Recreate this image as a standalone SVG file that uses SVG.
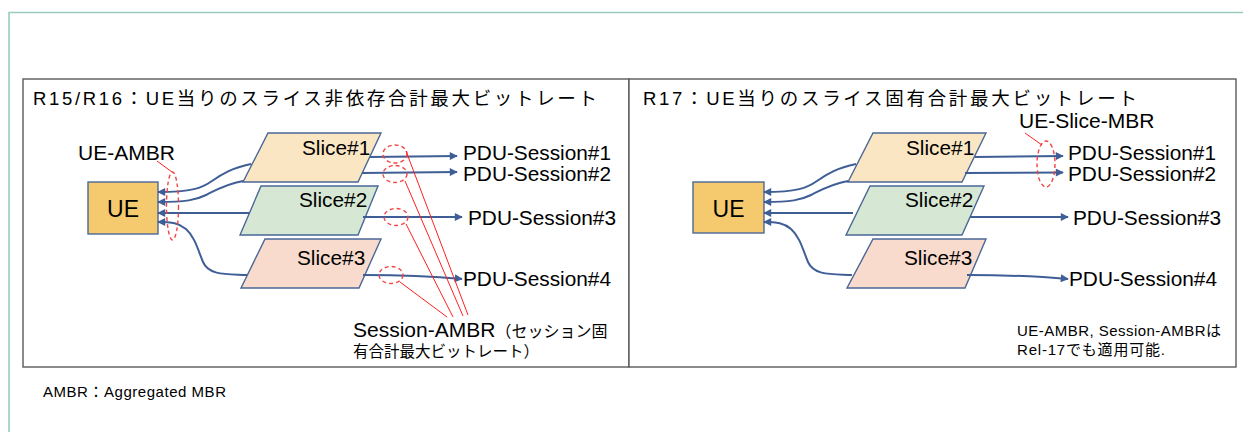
<svg xmlns="http://www.w3.org/2000/svg" width="1243" height="432" viewBox="0 0 1243 432">
<style>
text{font-family:"Liberation Sans","Noto Sans CJK JP",Arial,sans-serif;fill:#000}
.frame{fill:none;stroke:#9ACBBE;stroke-width:1.6}
.panel{fill:#fff;stroke:#5a5a5a;stroke-width:1.4}
.ue{fill:#F5CA6E;stroke:#4A6797;stroke-width:1.4}
.s1{fill:#FAE6C3;stroke:#4A6797;stroke-width:1.4}
.s2{fill:#D6E8D4;stroke:#4A6797;stroke-width:1.4}
.s3{fill:#F8DBCD;stroke:#4A6797;stroke-width:1.4}
.conn{fill:none;stroke:#3F5E96;stroke-width:2}
.arr{marker-end:url(#ah)}
.red{fill:none;stroke:#FF2020;stroke-width:1}
.dash{fill:none;stroke:#F04545;stroke-width:1.4;stroke-dasharray:4 3}
.t20{font-size:20.8px}
.t21{font-size:21px}
</style>
<defs>
<marker id="ah" viewBox="0 0 10 10" refX="9" refY="5" markerUnits="userSpaceOnUse" markerWidth="9" markerHeight="8" orient="auto">
<path d="M0,0 L10,5 L0,10 z" fill="#3F5E96"/>
</marker>
</defs>
<rect width="1243" height="432" fill="#fff"/>
<path class="frame" d="M9,432 L9,12.5 L1243,12.5"/>

<g id="panel-left">
<rect class="panel" x="23" y="79" width="606" height="288"/>
<text x="33" y="105" font-size="18.5" textLength="564" lengthAdjust="spacing">R15/R16：UE当りのスライス非依存合計最大ビットレート</text>
</g>
<g id="panel-right">
<rect class="panel" x="629" y="79" width="607" height="288"/>
<text x="643" y="105" font-size="18.5" textLength="494" lengthAdjust="spacing">R17：UE当りのスライス固有合計最大ビットレート</text>
</g>

<!-- Left panel nodes -->
<g id="l-ue">
<rect class="ue" x="88" y="182" width="70" height="52"/>
<text x="123" y="217" font-size="23" text-anchor="middle">UE</text>
</g>
<g id="l-slice1">
<polygon class="s1" points="268,133 381,133 358,182 243,182"/>
<text class="t20" x="302" y="155">Slice#1</text>
</g>
<g id="l-slice2">
<polygon class="s2" points="261,186 378,186 358,235 240,235"/>
<text class="t20" x="299" y="207">Slice#2</text>
</g>
<g id="l-slice3">
<polygon class="s3" points="265,239 381,239 359,288 241,288"/>
<text class="t20" x="297" y="265">Slice#3</text>
</g>
<g id="l-pdu1"><text class="t20" x="463" y="160">PDU-Session#1</text></g>
<g id="l-pdu2"><text class="t20" x="463" y="181">PDU-Session#2</text></g>
<g id="l-pdu3"><text class="t20" x="468" y="225">PDU-Session#3</text></g>
<g id="l-pdu4"><text class="t20" x="463" y="286">PDU-Session#4</text></g>
<g id="l-ueambr"><text class="t21" x="78" y="160">UE-AMBR</text></g>
<g id="l-sessambr">
<text x="353" y="337"><tspan font-size="21">Session-AMBR</tspan><tspan font-size="16">（セッション固</tspan></text>
<text x="353" y="357" font-size="15.5">有合計最大ビットレート）</text>
</g>

<!-- Right panel nodes -->
<g id="r-ue">
<rect class="ue" x="693" y="182" width="71" height="51"/>
<text x="728.5" y="217" font-size="23" text-anchor="middle">UE</text>
</g>
<g id="r-slice1">
<polygon class="s1" points="873,133 986,133 962,182 848,182"/>
<text class="t20" x="906" y="155">Slice#1</text>
</g>
<g id="r-slice2">
<polygon class="s2" points="870,186 984,186 962,235 846,235"/>
<text class="t20" x="905" y="207">Slice#2</text>
</g>
<g id="r-slice3">
<polygon class="s3" points="873,239 986,239 965,288 847,288"/>
<text class="t20" x="904" y="265">Slice#3</text>
</g>
<g id="r-pdu1"><text class="t20" x="1068" y="160">PDU-Session#1</text></g>
<g id="r-pdu2"><text class="t20" x="1068" y="181">PDU-Session#2</text></g>
<g id="r-pdu3"><text class="t20" x="1073" y="225">PDU-Session#3</text></g>
<g id="r-pdu4"><text class="t20" x="1069" y="286">PDU-Session#4</text></g>
<g id="r-ueslicembr"><text class="t21" x="1019" y="128">UE-Slice-MBR</text></g>
<g id="r-note">
<text x="1017" y="336" font-size="15" textLength="204" lengthAdjust="spacing">UE-AMBR, Session-AMBRは</text>
<text x="1017" y="355" font-size="15" textLength="148" lengthAdjust="spacing">Rel-17でも適用可能.</text>
</g>
<g id="footer"><text x="43" y="397" font-size="15" textLength="183" lengthAdjust="spacing">AMBR：Aggregated MBR</text></g>

<g id="connectors">
<!-- left panel: slices to UE -->
<path class="conn arr" d="M251,164 C232,168 222,174 212,181 C202,188 192,192 158,192"/>
<path class="conn arr" d="M243,181 C226,184 216,190 206,195 C196,200 186,202 158,202"/>
<path class="conn arr" d="M249,213 L158,213"/>
<path class="conn arr" d="M247,275 C228,274 209,276 203,262 C198,250 195,237 186,229 C179,223 172,222 158,222"/>
<!-- left panel: slices to PDU sessions -->
<path class="conn arr" d="M370,157 L457,156"/>
<path class="conn arr" d="M362,173 L457,172"/>
<path class="conn arr" d="M363,217 L462,217"/>
<path class="conn arr" d="M363,275 C400,275 430,276 462,279"/>
<!-- right panel: slices to UE -->
<path class="conn arr" d="M856,164 C837,168 827,174 817,181 C807,188 797,192 764,192"/>
<path class="conn arr" d="M848,181 C831,184 821,190 811,195 C801,200 791,202 764,202"/>
<path class="conn arr" d="M853,213 L764,213"/>
<path class="conn arr" d="M852,275 C833,274 814,276 808,262 C803,250 800,237 791,229 C784,223 777,222 764,222"/>
<!-- right panel: slices to PDU sessions -->
<path class="conn arr" d="M975,157 L1063,156"/>
<path class="conn arr" d="M965,173 L1063,172.5"/>
<path class="conn arr" d="M970,217 L1068,217"/>
<path class="conn arr" d="M967,275 C1005,275 1035,276 1068,279"/>
<!-- red annotation marks -->
<ellipse class="dash" cx="172.5" cy="206" rx="6" ry="34"/>
<path class="red" d="M157,161 L172,172"/>
<ellipse class="dash" cx="395" cy="154" rx="12" ry="9"/>
<ellipse class="dash" cx="395" cy="174" rx="12" ry="8.5"/>
<ellipse class="dash" cx="396" cy="217" rx="12" ry="8.5"/>
<ellipse class="dash" cx="391" cy="275" rx="12" ry="8.5"/>
<path class="red" d="M406,151 L468,315 M405,181 L463,316 M406,224 L453,317 M400,282 L447,317"/>
<ellipse class="dash" cx="1046" cy="164" rx="9" ry="23"/>
<path class="red" d="M1025,133 L1042,145"/>
</g>
</svg>
